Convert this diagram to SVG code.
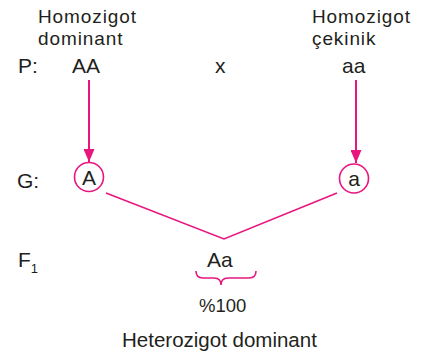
<svg xmlns="http://www.w3.org/2000/svg" width="424" height="354" viewBox="0 0 424 354">
  <style>
    .t { font-family: "Liberation Sans", Arial, Helvetica, sans-serif; font-size: 21px; fill: #231f20; }
    .lbl { font-size: 19px; letter-spacing: 0.9px; }
    .sub { font-size: 13px; }
    .pct { font-size: 18.5px; }
    .foot { font-size: 20.5px; }
    .pk { stroke: #e8157f; fill: none; }
  </style>
  <defs>
    <!-- filled pink arrowhead, drawn along +x so orient="auto" points it down the line -->
    <marker id="arr" viewBox="0 0 13 11" refX="13" refY="5.5" markerWidth="13" markerHeight="11" markerUnits="userSpaceOnUse" orient="auto">
      <path d="M0,0 L13,5.5 L0,11 Z" fill="#e8157f"/>
    </marker>
  </defs>

  <rect width="424" height="354" fill="#ffffff"/>

  <!-- row labels -->
  <g id="row-labels">
    <text class="t" x="18" y="73">P:</text>
    <text class="t" x="17" y="188">G:</text>
    <text class="t" x="18" y="267">F<tspan class="sub" dy="6">1</tspan></text>
  </g>

  <!-- parents -->
  <g id="parent-dominant">
    <text class="t lbl" x="38" y="23">Homozigot</text>
    <text class="t lbl" x="38" y="45">dominant</text>
    <text class="t" x="72" y="73">AA</text>
  </g>
  <g id="cross">
    <text class="t" x="215" y="73">x</text>
  </g>
  <g id="parent-recessive">
    <text class="t lbl" x="312" y="23">Homozigot</text>
    <text class="t lbl" x="312" y="45">çekinik</text>
    <text class="t" x="342" y="73">aa</text>
  </g>

  <!-- gametes -->
  <g id="gamete-A">
    <circle class="pk" cx="89" cy="177" r="14.5" stroke-width="1.6"/>
    <text class="t" x="89" y="185" text-anchor="middle">A</text>
  </g>
  <g id="gamete-a">
    <circle class="pk" cx="354" cy="178.5" r="14.5" stroke-width="1.6"/>
    <text class="t" x="354" y="186" text-anchor="middle">a</text>
  </g>

  <!-- offspring -->
  <g id="offspring">
    <text class="t" x="207" y="267">Aa</text>
    <path class="pk" stroke-width="1.6" d="M196,271 Q196,278 203,278 L214,278 Q221,278 221,285 Q221,278 228,278 L249,278 Q256,278 256,271"/>
    <text class="t pct" x="199" y="312">%100</text>
    <text class="t foot" x="122" y="347">Heterozigot dominant</text>
  </g>

  <!-- connectors -->
  <g id="connectors">
    <line class="pk" stroke-width="2" x1="89" y1="80" x2="89" y2="162" marker-end="url(#arr)"/>
    <line class="pk" stroke-width="2" x1="356" y1="80" x2="356" y2="163" marker-end="url(#arr)"/>
    <polyline class="pk" stroke-width="1.6" points="106,193 224,239 337,193"/>
  </g>
</svg>
